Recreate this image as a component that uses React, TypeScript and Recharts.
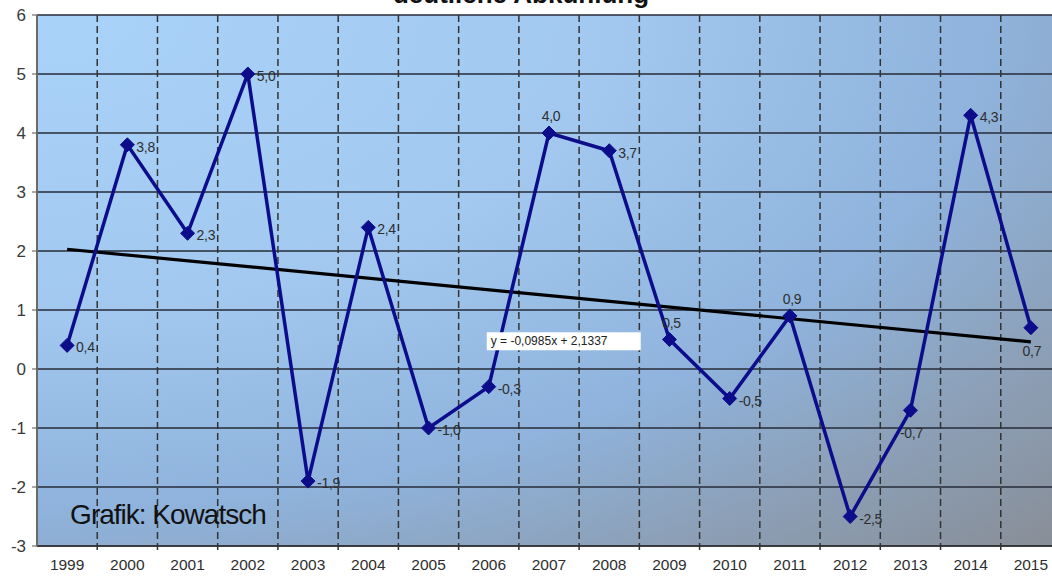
import React from 'react';
import {
  LineChart,
  Line,
  XAxis,
  YAxis,
  CartesianGrid,
  ReferenceLine,
  ReferenceDot,
  LabelList,
} from 'recharts';

const years = [1999, 2000, 2001, 2002, 2003, 2004, 2005, 2006, 2007, 2008, 2009, 2010, 2011, 2012, 2013, 2014, 2015];
const anomalies = [0.4, 3.8, 2.3, 5.0, -1.9, 2.4, -1.0, -0.3, 4.0, 3.7, 0.5, -0.5, 0.9, -2.5, -0.7, 4.3, 0.7];
const yTicks = [-3, -2, -1, 0, 1, 2, 3, 4, 5, 6];
const labelSides = ['r', 'r', 'r', 'r', 'r', 'r', 'r', 'r', 't', 'r', 't', 'r', 't', 'r', 'b', 'r', 'b'];
const trendEnds = [2.03, 0.46];
const trendEquation = 'y = -0,0985x + 2,1337';
const creditText = 'Grafik: Kowatsch';
const titleText = 'deutliche Abkühlung';

const data = years.map((year, i) => ({ year, value: anomalies[i] }));
const boundaries = years.slice(1).map((y) => y - 0.5);

const LINE_COLOR = '#0d0d8c';
const FONT = 'Arial, "Liberation Sans", Helvetica, sans-serif';

const Diamond = (props: any) => {
  const { cx, cy } = props;
  if (cx == null || cy == null) return null;
  const s = 7;
  return (
    <polygon
      points={`${cx},${cy - s} ${cx + s},${cy} ${cx},${cy + s} ${cx - s},${cy}`}
      fill={LINE_COLOR}
      stroke={LINE_COLOR}
      strokeWidth={1}
    />
  );
};

const fmt = (v: number) => v.toFixed(1).replace('.', ',');

const ValueLabel = (props: any) => {
  const { x, y, value, index } = props;
  const side = labelSides[index] || 'r';
  let tx = x + 9;
  let ty = y + 7;
  let anchor: any = 'start';
  if (side === 't') {
    tx = x + 2;
    ty = y - 12;
    anchor = 'middle';
  } else if (side === 'b') {
    tx = x + 1;
    ty = y + 28;
    anchor = 'middle';
  }
  return (
    <text x={tx} y={ty} textAnchor={anchor} fontSize={14} fill="#2e2e2e" fontFamily={FONT} letterSpacing={-0.3}>
      {fmt(Number(value))}
    </text>
  );
};

const EquationBox = (props: any) => {
  const { cx, cy } = props;
  return (
    <g>
      <rect x={cx - 2} y={cy - 9} width={154} height={18} fill="#ffffff" />
      <text x={cx + 2} y={cy + 4} fontSize={12} fill="#222" fontFamily={FONT}>
        {trendEquation}
      </text>
    </g>
  );
};

const Credit = (props: any) => {
  const { cx, cy } = props;
  return (
    <text x={cx + 3} y={cy} fontSize={28} fill="#111" fontFamily={FONT} letterSpacing={-1}>
      {creditText}
    </text>
  );
};

export default function App() {
  return (
    <div
      style={{
        position: 'absolute',
        left: 0,
        top: 0,
        width: 1052,
        height: 576,
        overflow: 'hidden',
        background: '#ffffff',
      }}
    >
      <svg width={1052} height={20} style={{ position: 'absolute', left: 0, top: 0, zIndex: 2 }}>
        <defs>
          <radialGradient id="plotBg" cx="0" cy="0" r="1.41" fx="0" fy="0" gradientUnits="objectBoundingBox">
            <stop offset="0" stopColor="#aad3f9" />
            <stop offset="0.4" stopColor="#a2c8ef" />
            <stop offset="0.66" stopColor="#8fb3dc" />
            <stop offset="0.82" stopColor="#8ca0b8" />
            <stop offset="1" stopColor="#888e97" />
          </radialGradient>
        </defs>
        <text x={521} y={3} textAnchor="middle" fontSize={26} fontWeight="bold" fill="#111" fontFamily={FONT}>
          {titleText}
        </text>
      </svg>
      <div style={{ position: 'absolute', left: 0, top: 0 }}>
        <LineChart width={1061} height={576} data={data} margin={{ top: 15, right: 0, left: 0, bottom: 0 }}>
          <CartesianGrid
            vertical={false}
            stroke="#262b38"
            strokeWidth={1.6}
            fill="url(#plotBg)"
            fillOpacity={1}
          />
          <XAxis
            dataKey="year"
            type="number"
            domain={[1998.5, 2015.5]}
            ticks={years}
            interval={0}
            allowDataOverflow
            tickLine={false}
            axisLine={{ stroke: '#333', strokeWidth: 1.5 }}
            tickMargin={7}
            tick={{ fill: '#2e2e2e', fontSize: 15.5, fontFamily: FONT }}
            height={30}
          />
          <YAxis
            domain={[-3, 6]}
            ticks={yTicks}
            interval={0}
            width={37}
            tickSize={5}
            tickMargin={6}
            tickLine={{ stroke: '#555' }}
            axisLine={{ stroke: '#6a6a6a', strokeWidth: 2 }}
            tick={{ fill: '#3a3a3a', fontSize: 17, fontFamily: FONT }}
          />
          {boundaries.map((b) => (
            <ReferenceLine
              key={b}
              segment={[
                { x: b, y: 6 },
                { x: b, y: -3.12 },
              ]}
              ifOverflow="visible"
              stroke="#333"
              strokeWidth={1.5}
              strokeDasharray="7 4"
            />
          ))}
          <ReferenceLine
            segment={[
              { x: years[0], y: trendEnds[0] },
              { x: years[years.length - 1], y: trendEnds[1] },
            ]}
            stroke="#000"
            strokeWidth={3.2}
          />
          <ReferenceDot x={2006} y={0.47} r={0} shape={EquationBox} />
          <ReferenceDot x={1999} y={-2.62} r={0} shape={Credit} />
          <Line
            type="linear"
            dataKey="value"
            stroke={LINE_COLOR}
            strokeWidth={3.5}
            dot={<Diamond />}
            activeDot={false}
            isAnimationActive={false}
          >
            <LabelList dataKey="value" content={<ValueLabel />} />
          </Line>
        </LineChart>
      </div>
    </div>
  );
}
